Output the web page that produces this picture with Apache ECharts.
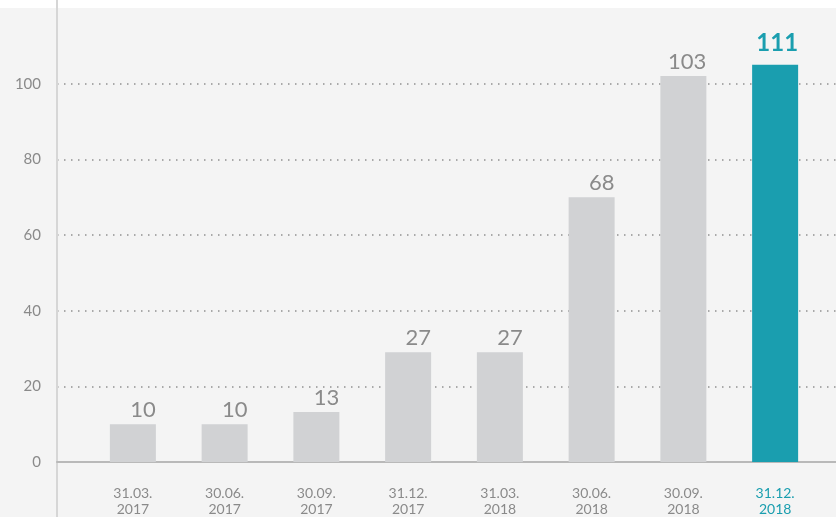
<!DOCTYPE html>
<html>
<head>
<meta charset="utf-8">
<script src="https://cdn.jsdelivr.net/npm/echarts@6/dist/echarts.min.js"></script>
<style>
html,body{margin:0;padding:0;}
#c{width:836px;height:517px;background:linear-gradient(to bottom,#ffffff 0px,#ffffff 8px,#f4f4f4 8px,#f4f4f4 100%);}
</style>
</head>
<body>
<div id="c"></div>
<script>
var categories = ['31.03.\n2017','30.06.\n2017','30.09.\n2017','31.12.\n2017','31.03.\n2018','30.06.\n2018','30.09.\n2018','31.12.\n2018'];
var barHeights = [10, 10, 13.2, 29, 29, 70, 102, 105];
var barLabels = [10, 10, 13, 27, 27, 68, 103, 111];
var yTicks = [0, 20, 40, 60, 80, 100];

var GREY = '#d1d2d4', TEAL = '#1a9eaf', TXT = '#8a8a8a';
var FONT = 'Lato, "Open Sans", sans-serif';
var last = categories.length - 1;

var chart = echarts.init(document.getElementById('c'), null, {renderer: 'canvas'});
var yMax = 120;
var gridColors = yTicks.map(function(){return '#a9a9a9';}).concat(['rgba(0,0,0,0)']);

chart.setOption({
  animation: false,
  textStyle: {fontFamily: FONT},
  grid: [
    {left: 57, right: 0, top: 0, bottom: 0},
    {left: 57, right: 0, top: 8, bottom: 55},
    {left: 87, right: 15, top: 8, bottom: 55}
  ],
  xAxis: [
    {gridIndex: 0, type: 'value', show: false},
    {gridIndex: 1, type: 'value', min: 0, max: 1,
      axisLine: {show: true, onZero: false, lineStyle: {color: '#b9b9b9', width: 2}},
      axisTick: {show: false}, axisLabel: {show: false}, splitLine: {show: false}},
    {gridIndex: 2, type: 'category', data: categories,
      axisLine: {show: false}, axisTick: {show: false}, splitLine: {show: false},
      axisLabel: {
        margin: 23, fontSize: 14, lineHeight: 16, fontFamily: FONT,
        color: function(v, i){ return i === last ? TEAL : TXT; }
      }}
  ],
  yAxis: [
    {gridIndex: 0, type: 'value', min: 0, max: 1,
      axisLine: {show: true, lineStyle: {color: '#d6d6d6', width: 2}},
      axisTick: {show: false}, axisLabel: {show: false}, splitLine: {show: false}},
    {gridIndex: 1, type: 'value', min: 0, max: yMax, interval: 20,
      axisLine: {show: false}, axisTick: {show: false},
      axisLabel: {margin: 16, fontSize: 15, color: TXT, fontFamily: FONT,
        formatter: function(v){ return yTicks.indexOf(v) >= 0 ? String(v) : ''; }},
      splitLine: {show: true, lineStyle: {color: gridColors, width: 2, type: [1.5, 5.5]}}},
    {gridIndex: 2, type: 'value', min: 0, max: yMax, show: false}
  ],
  series: [{
    type: 'bar',
    xAxisIndex: 2, yAxisIndex: 2,
    barWidth: 46,
    z: 1,
    data: barHeights.map(function(v, i){
      var isLast = i === last;
      return {
        value: v,
        itemStyle: {color: isLast ? TEAL : GREY},
        label: {
          show: true, position: 'top', align: 'right', offset: [23, isLast ? -6 : 0],
          distance: 3,
          formatter: String(barLabels[i]),
          fontSize: isLast ? 24 : 22,
          fontWeight: isLast ? 'bold' : 'normal',
          color: isLast ? TEAL : TXT,
          fontFamily: FONT
        }
      };
    })
  }]
});
</script>
</body>
</html>
